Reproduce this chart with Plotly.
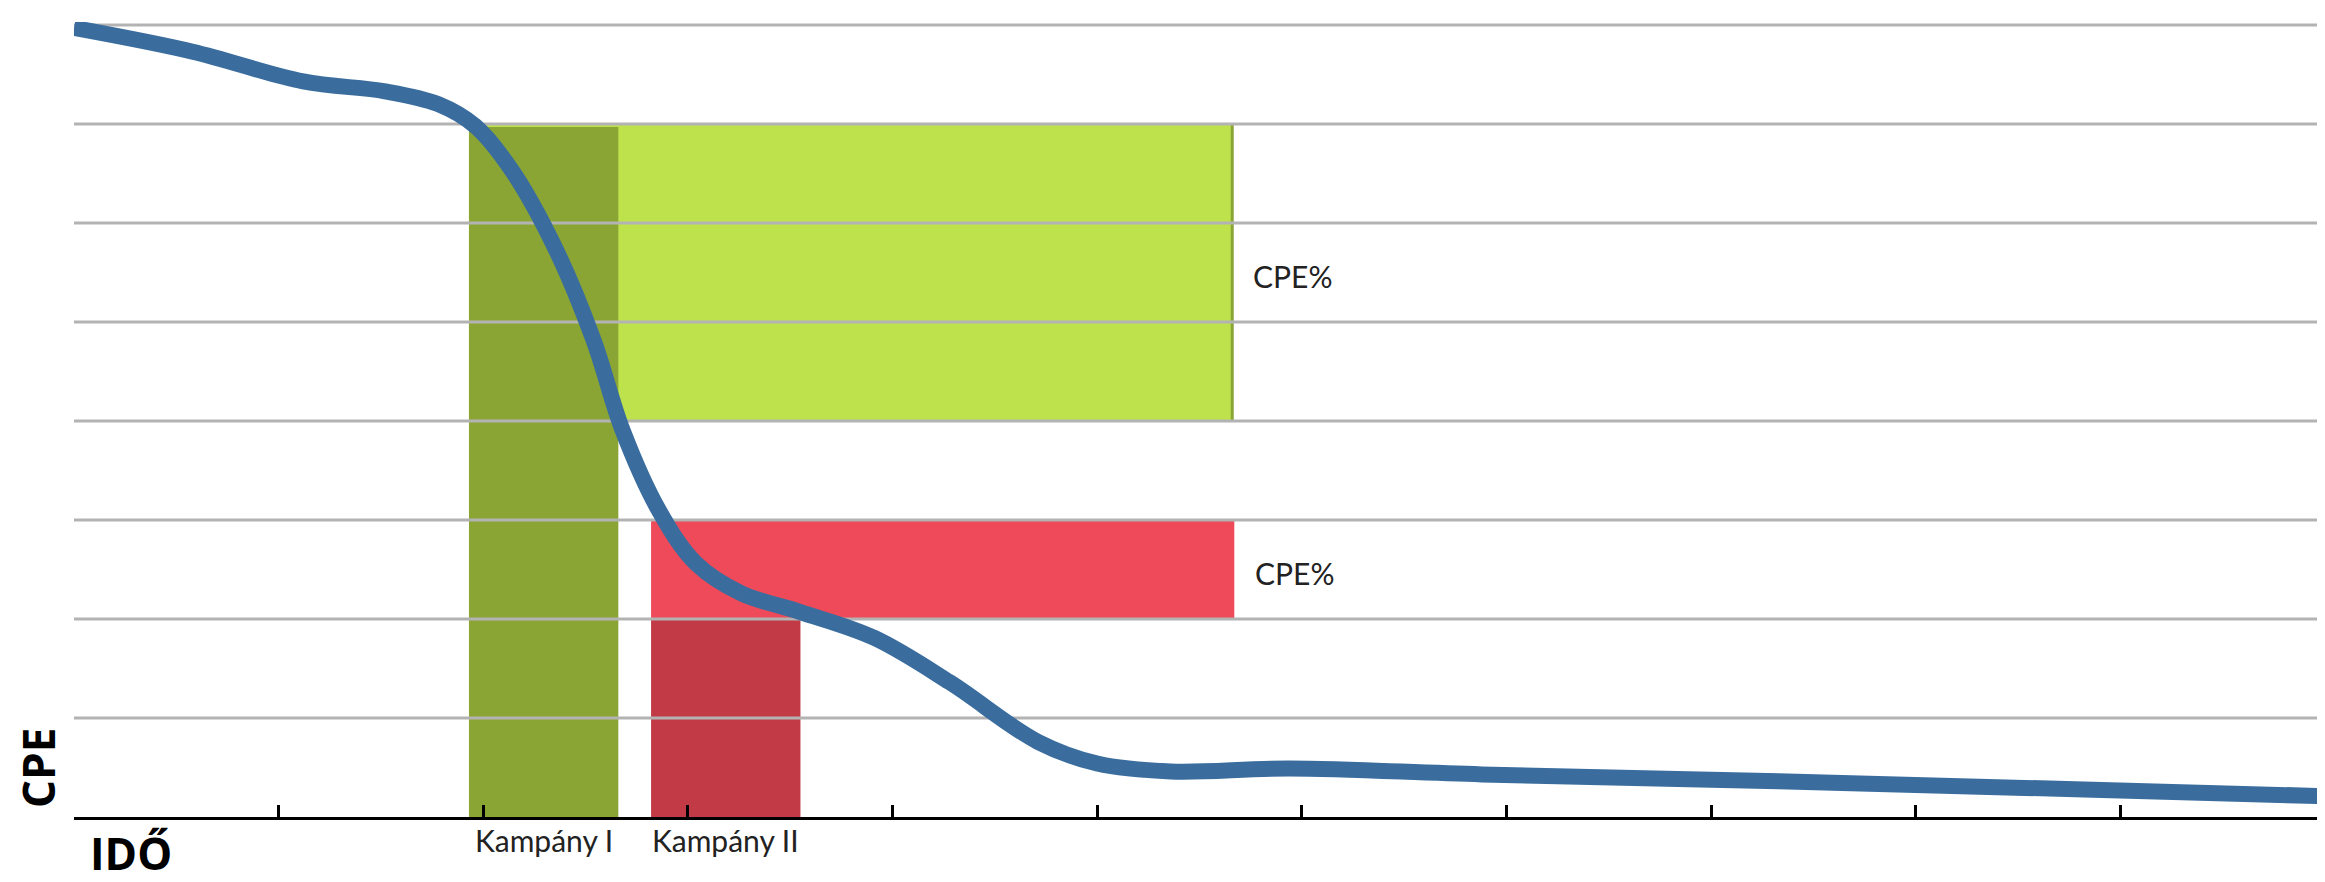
import plotly.graph_objects as go

# ---- data ----
time_x = [0.0, 0.58, 1.12, 1.52, 1.78, 1.96, 2.14, 2.36, 2.54, 2.68, 2.86, 3.04,
          3.26, 3.55, 3.91, 4.28, 4.71, 5.0, 5.36, 5.94, 6.88, 8.33, 9.78, 11.0]
cpe_y = [7.97, 7.73, 7.43, 7.33, 7.2, 6.98, 6.53, 5.71, 4.81, 3.91, 3.09, 2.56,
         2.26, 2.07, 1.81, 1.36, 0.76, 0.54, 0.46, 0.49, 0.43, 0.36, 0.28, 0.21]

campaigns = ["Kampány I", "Kampány II"]
bar_start = [1.93, 2.82]
bar_end = [2.66, 3.55]
bar_top = [6.97, 2.0]
band_low = [4.0, 2.0]
band_high = [7.0, 3.0]
band_end = [5.66, 5.67]
band_label = ["CPE%", "CPE%"]

x_ticks = list(range(0, 12))
y_grid = list(range(1, 9))

dark_colors = ["#8BA535", "#C13A46"]
light_colors = ["#BDE24B", "#EF4A5A"]

# page offset (default body margin of the html page)
OFF = 8
W, H = 2325 - OFF, 882 - OFF
ML, MR, MT, MB = 74 - OFF, 0, 14, 65
PW, PH = W - ML - MR, H - MT - MB
X_RANGE = [x_ticks[0], x_ticks[-1]]


def px_to_paper(px, py):
    """convert absolute screenshot pixel positions to paper coordinates"""
    return (px - OFF - ML) / PW, (H - MB - (py - OFF)) / PH


fig = go.Figure()

shapes = []
for i in range(len(campaigns)):
    shapes.append(dict(type="rect", xref="x", yref="y", layer="below",
                       x0=bar_start[i], x1=band_end[i], y0=band_low[i], y1=band_high[i],
                       fillcolor=light_colors[i], line=dict(width=0)))
    shapes.append(dict(type="rect", xref="x", yref="y", layer="below",
                       x0=bar_start[i], x1=bar_end[i], y0=0, y1=bar_top[i],
                       fillcolor=dark_colors[i], line=dict(width=0)))
# thin darker edge on the right side of the green band
shapes.append(dict(type="line", xref="x", yref="y", layer="below",
                   x0=band_end[0], x1=band_end[0], y0=band_low[0], y1=band_high[0],
                   line=dict(color="#8BA535", width=3)))
# horizontal grid lines drawn above the coloured blocks
for g in y_grid:
    shapes.append(dict(type="line", xref="x", yref="y", layer="below",
                       x0=X_RANGE[0], x1=X_RANGE[1], y0=g, y1=g,
                       line=dict(color="#B3B3B3", width=3)))

fig.add_trace(go.Scatter(x=time_x, y=cpe_y, mode="lines",
                         line=dict(color="#3A6D9E", width=16, shape="spline", smoothing=1.0),
                         hoverinfo="skip", showlegend=False))

annotations = []
for i in range(len(campaigns)):
    annotations.append(dict(x=(bar_start[i] + bar_end[i]) / 2, y=0, xref="x", yref="y",
                            text=campaigns[i], showarrow=False, yanchor="top", yshift=-3,
                            font=dict(family="Lato", size=30, color="#222222")))
    annotations.append(dict(x=band_end[i] + 0.09, y=(band_low[i] + band_high[i]) / 2,
                            xref="x", yref="y", text=band_label[i], showarrow=False,
                            xanchor="left", yanchor="middle", yshift=-4,
                            font=dict(family="Lato", size=30, color="#222222")))

cx, cy = px_to_paper(38, 768)
annotations.append(dict(x=cx, y=cy, xref="paper", yref="paper", text="CPE", showarrow=False,
                        textangle=-90, xanchor="center", yanchor="middle",
                        font=dict(family="Open Sans", size=44, color="black", weight="bold")))
ix, iy = px_to_paper(131, 853)
annotations.append(dict(x=ix, y=iy, xref="paper", yref="paper", text="IDŐ", showarrow=False,
                        xanchor="center", yanchor="middle",
                        font=dict(family="Open Sans", size=44, color="black", weight="bold")))

fig.update_layout(
    width=W, height=H,
    margin=dict(l=ML, r=MR, t=MT, b=MB),
    paper_bgcolor="white", plot_bgcolor="white",
    shapes=shapes, annotations=annotations,
    showlegend=False,
    xaxis=dict(range=X_RANGE, tickvals=x_ticks, showticklabels=False,
               ticks="inside", ticklen=12, tickwidth=3, tickcolor="black",
               showline=True, linecolor="black", linewidth=3,
               showgrid=False, zeroline=False, fixedrange=True),
    yaxis=dict(range=[0, 8.03], showticklabels=False, ticks="",
               showgrid=False, zeroline=False, showline=False, fixedrange=True),
)

fig.write_html("out.html")
